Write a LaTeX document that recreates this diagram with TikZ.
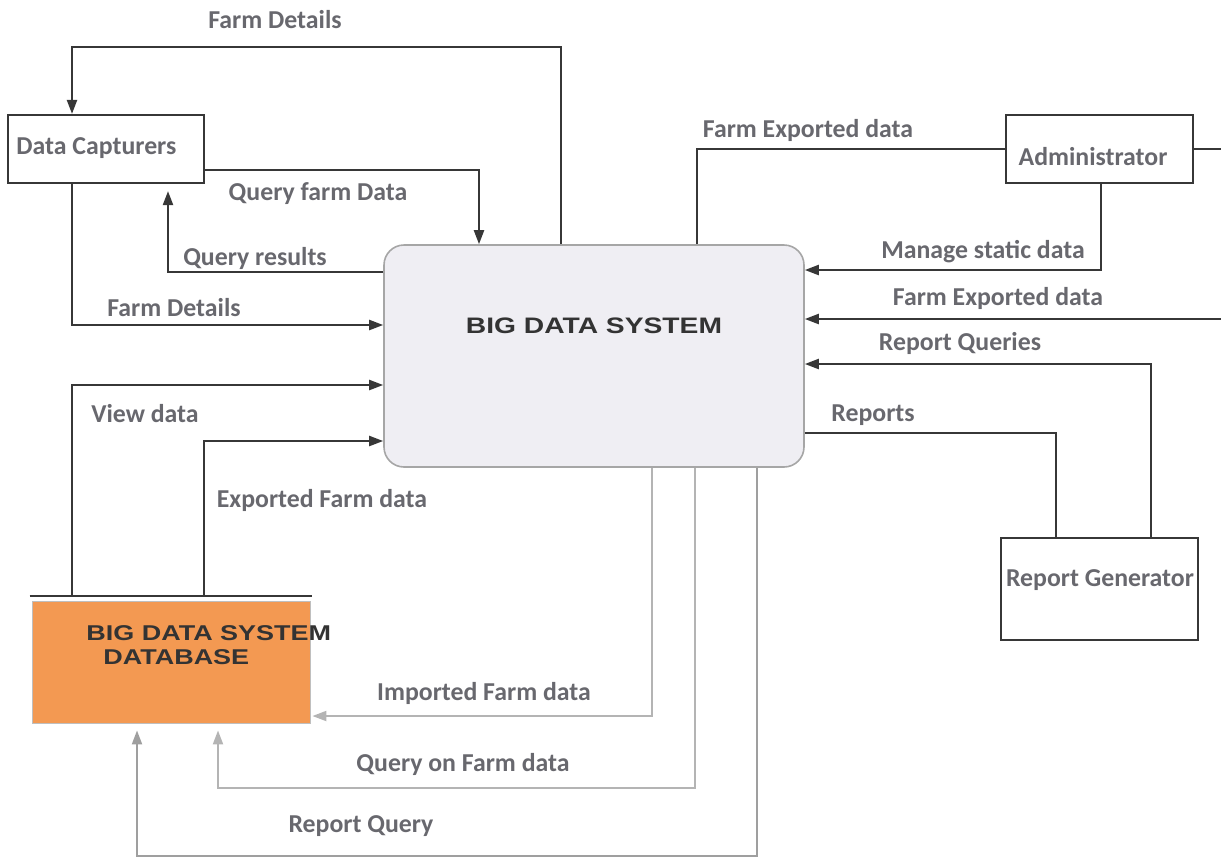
\documentclass[tikz,border=0pt]{standalone}
\usepackage{fontspec}
\setmainfont{Carlito}
\newfontfamily\widearial[FakeStretch=1.26]{Liberation Sans}
\usetikzlibrary{arrows.meta}

\definecolor{linedark}{RGB}{55,55,55}
\definecolor{linelight}{RGB}{180,180,180}
\definecolor{labelgray}{RGB}{104,104,110}
\definecolor{sysfill}{RGB}{239,238,243}
\definecolor{dbfill}{RGB}{243,153,82}

\begin{document}
\begin{tikzpicture}[x=0.5pt,y=-0.5pt,
    extbox/.style={rectangle,draw=linedark,line width=1.1pt,inner sep=0pt},
    flow/.style={draw=linedark,line width=1.1pt,-{Triangle[length=7pt,width=5pt]}},
    plain/.style={draw=linedark,line width=1.1pt},
    faint/.style={draw=linelight,line width=1pt,-{Triangle[length=7pt,width=5pt]}},
    lbl/.style={text=labelgray,font=\bfseries\fontsize{12.9}{15}\selectfont,inner sep=0pt},
    caps/.style={text=black!80,font=\widearial\bfseries\fontsize{11.2}{11}\selectfont,inner sep=0pt}]
\useasboundingbox (0,0) rectangle (1221,859);

% external entities
\node[extbox,minimum width=98pt,minimum height=34pt] (dc) at (106,149) {};
\node[extbox,minimum width=93.5pt,minimum height=34pt] (admin) at (1099.5,149) {};
\node[extbox,minimum width=98.5pt,minimum height=51pt] (rg) at (1099.5,589) {};
\node[lbl,anchor=west] (dctext) at (16,148) {Data Capturers};
\node[lbl] (admintext) at (1093,157) {Administrator};
\node[lbl] (rgtext) at (1100,580) {Report Generator};

% the system and its store
\node[rounded corners=10pt,draw=gray!70,fill=sysfill,line width=0.8pt,
      minimum width=210pt,minimum height=111pt] (bds) at (594,356) {};
\node[caps] (bdstext) at (594,326) {BIG DATA SYSTEM};
\node[draw=gray!50,line width=0.4pt,fill=dbfill,inner sep=0pt,
      minimum width=139pt,minimum height=61pt] (db) at (171,662) {};
\coordinate (dbtop) at ([yshift=2.5pt]db.north);
\draw[plain] ([xshift=-1pt]dbtop -| db.west) -- ([xshift=1pt]dbtop -| db.east);
\node[caps,anchor=west,font=\widearial\bfseries\fontsize{10.7}{11}\selectfont] (dbtext1) at (86,633) {BIG DATA SYSTEM};
\node[caps,anchor=west,font=\widearial\bfseries\fontsize{10.7}{11}\selectfont] (dbtext2) at (103,657) {DATABASE};

% data capturers
\draw[flow] (bds.north -| 561,0) |- (72,47) -- (dc.north -| 72,0);
\draw[flow] (dc.east |- 0,170) -| (bds.north -| 479,0);
\draw[flow,shorten >=3.5pt] (bds.west |- 0,272) -| (dc.south -| 168,0);
\draw[flow] (dc.south -| 72,0) |- (bds.west |- 0,325);
\node[lbl] (l1) at (275,20) {Farm Details};
\node[lbl] (l2) at (318,194) {Query farm Data};
\node[lbl] (l3) at (255,258) {Query results};
\node[lbl] (l4) at (174,308) {Farm Details};

% database
\draw[flow] (dbtop -| 72,0) |- (bds.west |- 0,385);
\draw[flow] (dbtop -| 204,0) |- (bds.west |- 0,441);
\draw[faint,shorten >=1pt] (bds.south -| 652,0) |- (db.east |- 0,716);
\draw[faint,shorten >=3.5pt] (bds.south -| 695,0) |- (218,788) -- (db.south -| 218,0);
\draw[faint,draw=gray!75,shorten >=3.5pt] (bds.south -| 757,0) |- (137,856) -- (db.south -| 137,0);
\node[lbl] (l5) at (145,414) {View data};
\node[lbl] (l6) at (322,500) {Exported Farm data};
\node[lbl] (l7) at (484,693) {Imported Farm data};
\node[lbl] (l8) at (463,764) {Query on Farm data};
\node[lbl] (l9) at (361,826) {Report Query};

% administrator
\draw[plain] (bds.north -| 697,0) |- (admin.west);
\begin{scope}
  \clip (0,0) rectangle (1221,859);
  \draw[flow] (admin.east) -- (1240,149) |- (bds.east |- 0,319);
\end{scope}
\draw[flow] (admin.south -| 1101,0) |- (bds.east |- 0,270);
\node[lbl] (l10) at (808,130) {Farm Exported data};
\node[lbl] (l11) at (983,252) {Manage static data};
\node[lbl] (l12) at (998,298) {Farm Exported data};

% report generator
\draw[flow] (rg.north -| 1151,0) |- (bds.east |- 0,364);
\draw[plain] (bds.east |- 0,433) -| (rg.north -| 1056,0);
\node[lbl] (l13) at (960,343) {Report Queries};
\node[lbl] (l14) at (873,415) {Reports};
\end{tikzpicture}
\end{document}
